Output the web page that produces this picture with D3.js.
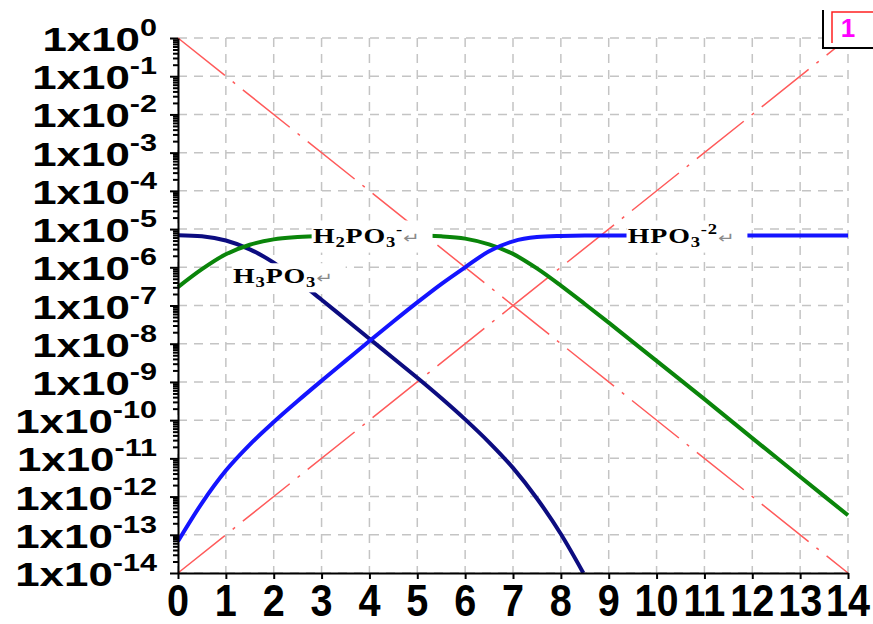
<!DOCTYPE html>
<html lang="en">
<head>
    <meta charset="UTF-8">
    <title>Phosphorous acid log C - pH diagram</title>
    <script src="https://d3js.org/d3.v7.min.js"></script>
    <style>
        body {
            margin: 0;
            background: #fff;
        }

        svg {
            display: block;
        }

        .grid line {
            stroke: #c4c4c4;
            stroke-width: 1.5;
            stroke-dasharray: 9, 7;
        }

        .axis path,
        .axis line {
            stroke: #000;
            stroke-width: 2;
        }

        .ylab, .xlab {
            font-family: "Liberation Sans", Arial, sans-serif;
            font-weight: bold;
            fill: #000;
        }

        .species {
            font-family: "Liberation Serif", "Times New Roman", serif;
            font-weight: bold;
            fill: #000;
        }
    </style>
</head>
<body>
    <svg id="chart"></svg>
    <script>
        // x ticks and y decade exponents
        const xTicks = [0, 1, 2, 3, 4, 5, 6, 7, 8, 9, 10, 11, 12, 13, 14];
        const yExponents = [0, -1, -2, -3, -4, -5, -6, -7, -8, -9, -10, -11, -12, -13, -14];

        // H+ and OH- (log concentration vs pH)
        const waterPH = [0, 14];
        const hLog = [0, -14];
        const ohLog = [-14, 0];

        // H3PO3
        const h3po3PH = [0, 0.5, 1, 1.5, 2, 2.5, 3, 3.5, 4, 4.5, 5, 5.5, 6, 6.5, 7, 7.5, 8, 8.47];
        const h3po3Log = [-5.16, -5.19, -5.30, -5.53, -5.88, -6.35, -6.85, -7.36, -7.87, -8.38, -8.89, -9.42, -9.98, -10.58, -11.25, -12.05, -12.98, -14.0];

        // H2PO3-
        const h2po3PH = [0, 0.5, 1, 1.5, 2, 2.5, 3, 3.5, 4, 4.5, 5, 5.5, 6, 6.5, 7, 7.5, 8, 8.5, 9, 10, 11, 12, 13, 14];
        const h2po3Log = [-6.52, -6.05, -5.66, -5.41, -5.27, -5.21, -5.18, -5.17, -5.17, -5.17, -5.17, -5.19, -5.25, -5.40, -5.65, -6.03, -6.48, -6.96, -7.45, -8.45, -9.45, -10.47, -11.48, -12.49];

        // HPO3^2-
        const hpo3PH = [0, 0.5, 1, 1.5, 2, 2.5, 3, 3.5, 4, 4.5, 5, 5.5, 6, 6.5, 7, 7.5, 8, 8.5, 9, 10, 11, 12, 13, 14];
        const hpo3Log = [-13.17, -12.17, -11.32, -10.64, -10.05, -9.50, -8.97, -8.45, -7.93, -7.42, -6.92, -6.44, -6.00, -5.58, -5.32, -5.21, -5.18, -5.17, -5.17, -5.17, -5.17, -5.17, -5.17, -5.17];

        // species labels: [text, sub, text, sub, sup], anchor pH and log
        const labelNames = ["H2PO3", "H3PO3", "HPO3"];
        const labelParts = [
            ["H", "2", "PO", "3", "-"],
            ["H", "3", "PO", "3", ""],
            ["HPO", "", "", "3", "-2"]
        ];
        const labelPH = [2.82, 1.15, 9.40];
        const labelLog = [-5.37, -6.41, -5.37];

        const W = 873, H = 624;
        const margin = { top: 38, right: 25, bottom: 51, left: 178 };
        const width = W - margin.left - margin.right;
        const height = H - margin.top - margin.bottom;

        const svg = d3.select("#chart")
            .attr("width", W)
            .attr("height", H);

        const g = svg.append("g")
            .attr("transform", `translate(${margin.left},${margin.top})`);

        const x = d3.scaleLinear().domain([0, 14]).range([0, width]);
        const y = d3.scaleLog().domain([1e-14, 1]).range([height, 0]);

        // dashed grid
        g.append("g").attr("class", "grid")
            .selectAll("line").data(xTicks).enter().append("line")
            .attr("x1", d => x(d)).attr("x2", d => x(d))
            .attr("y1", 0).attr("y2", height);
        g.append("g").attr("class", "grid")
            .selectAll("line").data(yExponents).enter().append("line")
            .attr("x1", 0).attr("x2", width)
            .attr("y1", d => y(Math.pow(10, d))).attr("y2", d => y(Math.pow(10, d)));

        const line = d3.line()
            .x(d => x(d[0]))
            .y(d => y(Math.pow(10, d[1])))
            .curve(d3.curveMonotoneX);

        const zip = (a, b) => a.map((v, i) => [v, b[i]]);

        // water lines
        [hLog, ohLog].forEach(arr => {
            g.append("path")
                .datum(zip(waterPH, arr))
                .attr("d", line)
                .attr("fill", "none")
                .attr("stroke", "#ff5a5a")
                .attr("stroke-width", 1.5)
                .attr("stroke-dasharray", "60,10,3,10");
        });

        const series = [
            { ph: h3po3PH, lg: h3po3Log, color: "#0c0c80" },
            { ph: h2po3PH, lg: h2po3Log, color: "#0a850a" },
            { ph: hpo3PH, lg: hpo3Log, color: "#1414ff" }
        ];
        series.forEach(s => {
            g.append("path")
                .datum(zip(s.ph, s.lg))
                .attr("d", line)
                .attr("fill", "none")
                .attr("stroke", s.color)
                .attr("stroke-width", 4)
                .attr("stroke-linejoin", "round");
        });

        // species labels with white background
        labelNames.forEach((name, i) => {
            const p = labelParts[i];
            const lg = g.append("g")
                .attr("transform", `translate(${x(labelPH[i])},${y(Math.pow(10, labelLog[i]))}) scale(1.33,1)`);
            const bg = lg.append("rect").attr("fill", "#fff");
            const t = lg.append("text").attr("class", "species").attr("font-size", 21)
                .attr("letter-spacing", 0.6);
            t.append("tspan").text(p[0]);
            if (p[1]) t.append("tspan").attr("font-size", 14).attr("dy", 4).text(p[1]);
            if (p[2]) t.append("tspan").attr("dy", -4).text(p[2]);
            t.append("tspan").attr("font-size", 14).attr("dy", 4).text(p[3]);
            let up = 4;
            if (p[4]) {
                t.append("tspan").attr("font-size", 14).attr("dy", -13).text(p[4]);
                up = -9;
            }
            t.append("tspan").attr("font-size", 15).attr("dy", -up).attr("fill", "#8a8a8a")
                .attr("font-weight", "normal").attr("font-family", "DejaVu Sans").text("\u21b5");
            const b = t.node().getBBox();
            bg.attr("x", b.x - 1).attr("y", b.y - 1)
                .attr("width", b.width + 10).attr("height", b.height + 3);
        });

        // axes
        const minor = [];
        yExponents.slice(1).forEach(e => {
            for (let k = 2; k <= 9; k++) minor.push(k * Math.pow(10, e));
        });

        g.append("g").attr("class", "axis")
            .call(d3.axisLeft(y).tickValues(minor).tickSize(5).tickFormat(""))
            .call(a => a.select(".domain").remove());
        g.append("g").attr("class", "axis")
            .call(d3.axisLeft(y).tickValues(yExponents.map(e => Math.pow(10, e))).tickSize(8).tickSizeOuter(0).tickFormat(""));
        g.append("g").attr("class", "axis")
            .attr("transform", `translate(0,${height})`)
            .call(d3.axisBottom(x).tickValues(xTicks).tickSize(6).tickSizeOuter(0).tickFormat(""));

        // y labels 1x10^n (stretched)
        yExponents.forEach(e => {
            const t = g.append("g")
                .attr("transform", `translate(${157 - margin.left},${y(Math.pow(10, e)) + 13}) scale(1.33,1)`)
                .append("text").attr("class", "ylab").attr("text-anchor", "end").attr("font-size", 33);
            t.append("tspan").text("1x10");
            t.append("tspan").attr("font-size", 23).attr("dy", -15).text(e);
        });

        // x labels (narrow)
        xTicks.forEach(v => {
            g.append("g")
                .attr("transform", `translate(${x(v)},${height + 43}) scale(0.9,1)`)
                .append("text").attr("class", "xlab").attr("text-anchor", "middle")
                .attr("font-size", 44).text(v);
        });

        // corner marker box
        svg.append("rect").attr("x", 823).attr("y", 10).attr("width", 50).attr("height", 38).attr("fill", "#fff");
        svg.append("path").attr("d", "M823,10 V48 H873").attr("fill", "none").attr("stroke", "#000").attr("stroke-width", 2);
        svg.append("path").attr("d", "M832,43 V12 H873").attr("fill", "none").attr("stroke", "#ff2020").attr("stroke-width", 1.5);
        svg.append("text").attr("x", 848).attr("y", 37).attr("text-anchor", "middle")
            .attr("font-family", "Liberation Sans, Arial, sans-serif").attr("font-size", 26)
            .attr("font-weight", "bold").attr("fill", "#ff00ff").text("1");
    </script>
</body>
</html>
